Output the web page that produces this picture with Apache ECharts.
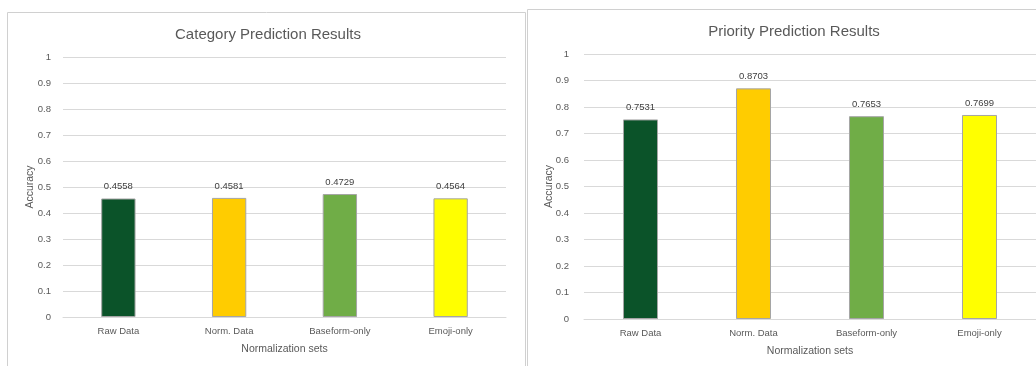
<!DOCTYPE html>
<html>
<head>
<meta charset="utf-8">
<script src="https://cdn.jsdelivr.net/npm/echarts@6/dist/echarts.min.js"></script>
<style>
html,body{margin:0;padding:0;background:#fff;}
#c{width:1036px;height:366px;}
</style>
</head>
<body>
<div id="c"></div>
<script>
var categories = ['Raw Data', 'Norm. Data', 'Baseform-only', 'Emoji-only'];
var categoryAccuracy = [0.4558, 0.4581, 0.4729, 0.4564];
var priorityAccuracy = [0.7531, 0.8703, 0.7653, 0.7699];
var barColors = ['#0b5329', '#ffcc00', '#70ad47', '#ffff00'];
var titles = ['Category Prediction Results', 'Priority Prediction Results'];
var xName = 'Normalization sets';
var yName = 'Accuracy';

var FONT = 'Liberation Sans';
var TXT = '#595959';

function xAxis(idx) {
  return {
    type: 'category', gridIndex: idx, data: categories,
    axisLine: {show: true, lineStyle: {color: '#d9d9d9'}},
    axisTick: {show: false},
    axisLabel: {color: TXT, fontFamily: FONT, fontSize: 9.5, margin: 9},
    name: xName, nameLocation: 'middle', nameGap: 27, nameMoveOverlap: false,
    nameTextStyle: {color: TXT, fontFamily: FONT, fontSize: 10.5}
  };
}
function yAxis(idx, m, gap) {
  return {
    type: 'value', gridIndex: idx, min: 0, max: 1, interval: 0.1,
    axisLine: {show: false}, axisTick: {show: false},
    splitLine: {lineStyle: {color: '#d9d9d9'}},
    axisLabel: {color: TXT, fontFamily: FONT, fontSize: 9.5, margin: m},
    name: yName, nameLocation: 'middle', nameGap: gap, nameMoveOverlap: false,
    nameTextStyle: {color: TXT, fontFamily: FONT, fontSize: 10.5}
  };
}
function barSeries(idx, values) {
  return {
    type: 'bar', xAxisIndex: idx, yAxisIndex: idx,
    barWidth: '31%',
    data: values.map(function (v, i) {
      return {value: v, itemStyle: {color: barColors[i]}};
    }),
    itemStyle: {borderColor: '#a5a5a5', borderWidth: 1},
    label: {show: true, position: 'top', distance: 7, color: '#404040',
      fontFamily: FONT, fontSize: 9.5,
      formatter: function (p) { return p.value.toFixed(4); }}
  };
}

var chart = echarts.init(document.getElementById('c'), null, {renderer: 'canvas'});
chart.setOption({
  backgroundColor: '#fff',
  animation: false,
  graphic: [
    {type: 'rect', shape: {x: 7.5, y: 12.5, width: 518, height: 400},
      style: {fill: 'none', stroke: '#d0d0d0', lineWidth: 1}, z: 0},
    {type: 'rect', shape: {x: 527.5, y: 9.5, width: 540, height: 400},
      style: {fill: 'none', stroke: '#d0d0d0', lineWidth: 1}, z: 0}
  ],
  title: [
    {text: titles[0], left: 263, top: 22, textAlign: 'center',
      textStyle: {color: TXT, fontFamily: FONT, fontSize: 15, fontWeight: 'normal'}},
    {text: titles[1], left: 789, top: 19, textAlign: 'center',
      textStyle: {color: TXT, fontFamily: FONT, fontSize: 15, fontWeight: 'normal'}}
  ],
  grid: [
    {left: 63, top: 57, width: 443, height: 260},
    {left: 584, top: 54, width: 454, height: 265}
  ],
  xAxis: [xAxis(0), xAxis(1)],
  yAxis: [yAxis(0, 12, 27), yAxis(1, 15, 29)],
  series: [barSeries(0, categoryAccuracy), barSeries(1, priorityAccuracy)]
});
</script>
</body>
</html>
